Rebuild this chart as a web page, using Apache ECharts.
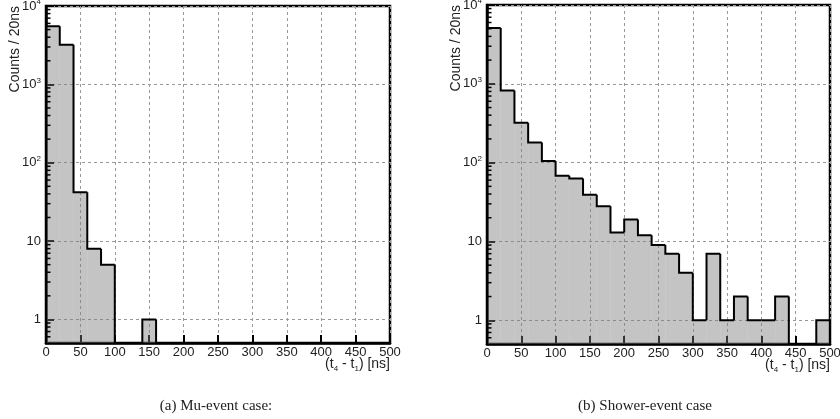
<!DOCTYPE html>
<html><head><meta charset="utf-8">
<script src="https://cdn.jsdelivr.net/npm/echarts@6/dist/echarts.min.js"></script>
<style>html,body{margin:0;padding:0;background:#fff}#c{width:840px;height:419px}</style>
</head><body><div id="c"></div>
<script>
// ---- data ----
const binStarts = [0, 20, 40, 60, 80, 100, 120, 140, 160, 180, 200, 220, 240, 260, 280, 300, 320, 340, 360, 380, 400, 420, 440, 460, 480];
const binWidth = 20;
const muCounts = [5500, 3200, 42, 8, 5, 0, 0, 1, 0, 0, 0, 0, 0, 0, 0, 0, 0, 0, 0, 0, 0, 0, 0, 0, 0];
const showerCounts = [5100, 820, 320, 180, 105, 68, 63, 39, 28, 13, 19, 12, 9, 7, 4, 1, 7, 1, 2, 1, 1, 2, 0, 0, 1];
const xTicks = [0, 50, 100, 150, 200, 250, 300, 350, 400, 450, 500];
const yTickLabels = { 1: '1', 10: '10', 100: '10{sup|2}', 1000: '10{sup|3}', 10000: '10{sup|4}' };
const yDecades = [0.1, 1, 10, 100, 1000];
const minorMultipliers = [2, 3, 4, 5, 6, 7, 8, 9];
const yAxisTitle = 'Counts / 20ns';
const captions = ['(a) Mu-event case:', '(b) Shower-event case'];

const TXT = '#222';
const SANS = 'Liberation Sans';
const Y_MIN = 0.5, Y_MAX = 10000;

// minor tick values of the log axis (2..9 x each decade), inside the axis range
const minorTickValues = [];
yDecades.forEach(d => minorMultipliers.forEach(m => {
  const v = Math.round(d * m * 1000) / 1000;
  if (v > Y_MIN && v < Y_MAX) minorTickValues.push(v);
}));

function histRender(counts) {
  return function (params, api) {
    const i = params.dataIndex;
    const cs = params.coordSys;
    const bottom = cs.y + cs.height;
    const yOf = v => (v > 0 ? api.coord([0, v])[1] : bottom);
    const x0 = api.coord([api.value(0), 1])[0];
    const x1 = api.coord([api.value(1), 1])[0];
    const v = api.value(2);
    const prev = i > 0 ? counts[i - 1] : 0;
    const y = yOf(v), yp = yOf(prev);
    const children = [];
    if (v > 0) {
      children.push({ type: 'rect', shape: { x: x0, y: y, width: x1 - x0, height: bottom - y },
        style: { fill: 'rgba(120,120,120,0.44)' } });
    }
    const pts = [[x0, yp], [x0, y], [x1, y]];
    if (i === counts.length - 1) pts.push([x1, bottom]);
    children.push({ type: 'polyline', shape: { points: pts }, style: { fill: null, stroke: '#000', lineWidth: 2 } });
    return { type: 'group', children: children };
  };
}
function minorTickRender(params, api) {
  const cs = params.coordSys;
  const y = api.coord([0, api.value(0)])[1];
  return { type: 'line', shape: { x1: cs.x, y1: y, x2: cs.x + 4.5, y2: y },
    style: { stroke: '#000', lineWidth: 1.5 } };
}

function makeX(gi) {
  return {
    type: 'value', gridIndex: gi, min: xTicks[0], max: xTicks[xTicks.length - 1], interval: 50,
    axisLine: { lineStyle: { color: '#000', width: 2.5 } },
    axisTick: { inside: true, length: 8, lineStyle: { color: '#000', width: 2 } },
    axisLabel: { color: TXT, fontFamily: SANS, fontSize: 13, margin: 3,
      formatter: v => (xTicks.indexOf(v) >= 0 ? String(v) : '') },
    splitLine: { show: true, lineStyle: { color: '#999', type: [3, 3], width: 1 } },
    name: '(t{sub|4} - t{sub|1}) [ns]', nameLocation: 'end', nameGap: 0, nameMoveOverlap: false,
    nameTextStyle: { color: TXT, fontFamily: SANS, fontSize: 14, align: 'right', verticalAlign: 'top',
      padding: [12, 0, 0, 0], rich: { sub: { fontSize: 8, fontFamily: SANS, color: TXT, padding: [10, 0, 0, 0] } } }
  };
}
function makeY(gi) {
  return {
    type: 'log', logBase: 10, gridIndex: gi, min: Y_MIN, max: Y_MAX,
    axisLine: { lineStyle: { color: '#000', width: 2.5 } },
    axisTick: { inside: true, length: 8, lineStyle: { color: '#000', width: 2 } },
    minorTick: { show: false },
    axisLabel: { color: TXT, fontFamily: SANS, fontSize: 13, margin: 5,
      formatter: v => yTickLabels[Math.round(v)] && Math.abs(v - Math.round(v)) < 1e-6 ? yTickLabels[Math.round(v)] : '',
      rich: { sup: { fontSize: 8, fontFamily: SANS, color: TXT, padding: [0, 0, 8, 0] } } },
    splitLine: { show: true, lineStyle: { color: '#999', type: [3, 3], width: 1 } },
    name: yAxisTitle, nameLocation: 'end', nameGap: 0, nameRotate: 90, nameMoveOverlap: false,
    nameTextStyle: { color: TXT, fontFamily: SANS, fontSize: 14, align: 'right', verticalAlign: 'bottom',
      padding: [0, 0, 24, 0] }
  };
}

const chart = echarts.init(document.getElementById('c'), null, { renderer: 'canvas' });
chart.setOption({
  backgroundColor: '#fff',
  animation: false,
  grid: [
    { left: 46, top: 6, width: 344, height: 337, show: true, borderColor: '#000', borderWidth: 2.5, outerBoundsMode: 'none' },
    { left: 487, top: 5, width: 343, height: 339, show: true, borderColor: '#000', borderWidth: 2.5, outerBoundsMode: 'none' }
  ],
  xAxis: [makeX(0), makeX(1)],
  yAxis: [makeY(0), makeY(1)],
  series: [
    { type: 'custom', xAxisIndex: 0, yAxisIndex: 0, renderItem: histRender(muCounts),
      encode: { x: [0, 1], y: 2 }, data: binStarts.map((s, i) => [s, s + binWidth, muCounts[i]]) },
    { type: 'custom', xAxisIndex: 1, yAxisIndex: 1, renderItem: histRender(showerCounts),
      encode: { x: [0, 1], y: 2 }, data: binStarts.map((s, i) => [s, s + binWidth, showerCounts[i]]) },
    { type: 'custom', name: 'minorTicksA', silent: true, xAxisIndex: 0, yAxisIndex: 0, renderItem: minorTickRender,
      encode: { y: 0 }, data: minorTickValues.map(v => [v]), z: 5 },
    { type: 'custom', name: 'minorTicksB', silent: true, xAxisIndex: 1, yAxisIndex: 1, renderItem: minorTickRender,
      encode: { y: 0 }, data: minorTickValues.map(v => [v]), z: 5 }
  ],
  graphic: [
    { type: 'text', x: 216, y: 406, style: { text: captions[0], align: 'center', verticalAlign: 'middle',
      font: '15px "Liberation Serif"', fill: TXT } },
    { type: 'text', x: 645, y: 406, style: { text: captions[1], align: 'center', verticalAlign: 'middle',
      font: '15px "Liberation Serif"', fill: TXT } }
  ]
});
</script></body></html>
